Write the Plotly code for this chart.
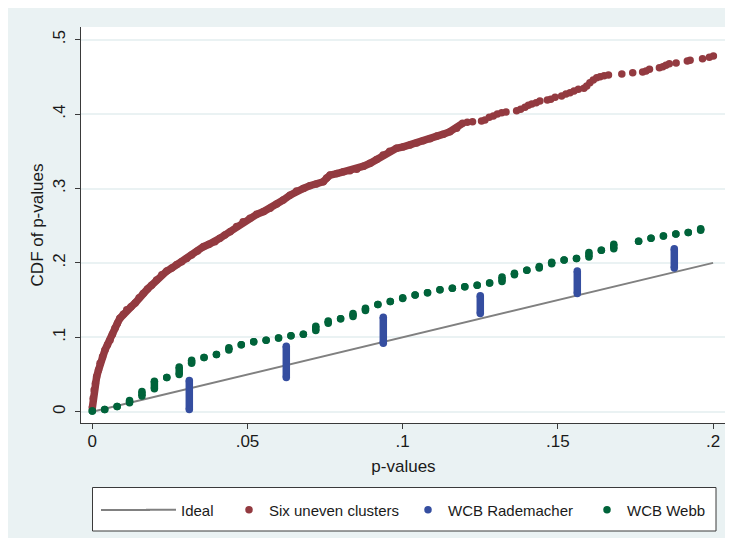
import plotly.graph_objects as go

# ---------------- data ----------------
ideal_x = [0.0, 0.2]
ideal_y = [0.0, 0.2]

# "Six uneven clusters": dense part of the empirical CDF
red_dense_x = [0.0000, 0.0003, 0.0006, 0.0010, 0.0014, 0.0020, 0.0025, 0.0033, 0.0041, 0.0049,
               0.0057, 0.0065, 0.0073, 0.0081, 0.0089, 0.0100, 0.0111, 0.0125, 0.0138, 0.0151,
               0.0164, 0.0178, 0.0191, 0.0207, 0.0224, 0.0240, 0.0256, 0.0272, 0.0288, 0.0304,
               0.0320, 0.0339, 0.0358, 0.0376, 0.0395, 0.0411, 0.0427, 0.0444, 0.0465, 0.0486,
               0.0508, 0.0530, 0.0552, 0.0573, 0.0594, 0.0615, 0.0637, 0.0658, 0.0680, 0.0701,
               0.0722, 0.0744, 0.0755, 0.0766, 0.0788, 0.0809, 0.0830, 0.0852, 0.0874, 0.0895,
               0.0916, 0.0937, 0.0958, 0.0980, 0.1002, 0.1024, 0.1045, 0.1066, 0.1088, 0.1110,
               0.1131, 0.1152, 0.1174, 0.1193]
red_dense_y = [0.005, 0.018, 0.029, 0.038, 0.047, 0.056, 0.065, 0.074, 0.083, 0.090,
               0.096, 0.104, 0.112, 0.119, 0.1255, 0.131, 0.137, 0.141, 0.146, 0.153,
               0.159, 0.165, 0.170, 0.177, 0.184, 0.189, 0.193, 0.198, 0.2016, 0.206,
               0.2106, 0.216, 0.2218, 0.225, 0.2285, 0.233, 0.2375, 0.242, 0.249, 0.2554,
               0.260, 0.2653, 0.269, 0.2734, 0.279, 0.2845, 0.291, 0.2966, 0.300, 0.3038,
               0.306, 0.3091, 0.314, 0.318, 0.320, 0.3226, 0.324, 0.3258, 0.330, 0.3339,
               0.339, 0.345, 0.350, 0.354, 0.356, 0.3585, 0.361, 0.3643, 0.367, 0.3706,
               0.373, 0.3763, 0.381, 0.3876]
# "Six uneven clusters": sparser upper part (individual dots)
red_sparse_x = [0.1208, 0.1225, 0.1254, 0.1265, 0.1279, 0.1292, 0.1305, 0.1319, 0.1333, 0.1367,
                0.1380, 0.1394, 0.1405, 0.1416, 0.1430, 0.1442, 0.1466, 0.1477, 0.1491, 0.1512,
                0.1526, 0.1539, 0.1552, 0.1566, 0.1584, 0.1593, 0.1603, 0.1614, 0.1625, 0.1636,
                0.1649, 0.1663, 0.1706, 0.1741, 0.1773, 0.1784, 0.1795, 0.1827, 0.1838, 0.1848,
                0.1859, 0.1881, 0.1917, 0.1926, 0.1966, 0.1988, 0.2001]
red_sparse_y = [0.3889, 0.3898, 0.3907, 0.3921, 0.3957, 0.3974, 0.4001, 0.4019, 0.4028, 0.4046,
                0.4064, 0.4091, 0.4118, 0.4136, 0.4154, 0.4176, 0.4190, 0.4199, 0.4225, 0.4243,
                0.4270, 0.4288, 0.4310, 0.4333, 0.4346, 0.4378, 0.4422, 0.4458, 0.4490, 0.4503,
                0.4517, 0.4526, 0.4539, 0.4557, 0.4566, 0.4579, 0.4602, 0.4624, 0.4638, 0.4655,
                0.4678, 0.4687, 0.4714, 0.4723, 0.4745, 0.4763, 0.4781]

# "WCB Rademacher": stacks of points at discrete p-values (lowest / highest CDF value)
blue_x = [0.03125, 0.0625, 0.09375, 0.125, 0.15625, 0.1875]
blue_lo = [0.003, 0.046, 0.092, 0.132, 0.159, 0.193]
blue_hi = [0.042, 0.088, 0.127, 0.156, 0.189, 0.219]

# "WCB Webb": discrete p-values (lowest / highest CDF value at each)
green_x = [0.000, 0.004, 0.008, 0.012, 0.016, 0.020, 0.024, 0.028, 0.032, 0.036,
           0.040, 0.044, 0.048, 0.052, 0.056, 0.060, 0.064, 0.068, 0.072, 0.076,
           0.080, 0.084, 0.088, 0.092, 0.096, 0.100, 0.104, 0.108, 0.112, 0.116,
           0.120, 0.124, 0.128, 0.132, 0.136, 0.140, 0.144, 0.148, 0.152, 0.156,
           0.160, 0.164, 0.168, 0.176, 0.180, 0.184, 0.188, 0.192, 0.196]
green_lo = [0.001, 0.003, 0.007, 0.012, 0.021, 0.031, 0.046, 0.050, 0.065, 0.073,
            0.077, 0.083, 0.090, 0.094, 0.096, 0.099, 0.102, 0.104, 0.109, 0.119,
            0.125, 0.128, 0.136, 0.144, 0.148, 0.152, 0.157, 0.160, 0.164, 0.166,
            0.168, 0.170, 0.173, 0.175, 0.184, 0.190, 0.193, 0.199, 0.204, 0.206,
            0.208, 0.217, 0.219, 0.229, 0.233, 0.236, 0.239, 0.241, 0.244]
green_hi = [0.001, 0.003, 0.007, 0.015, 0.027, 0.041, 0.046, 0.060, 0.069, 0.073,
            0.077, 0.086, 0.090, 0.094, 0.096, 0.099, 0.102, 0.104, 0.115, 0.122,
            0.125, 0.132, 0.139, 0.144, 0.148, 0.153, 0.157, 0.160, 0.164, 0.166,
            0.168, 0.170, 0.173, 0.181, 0.186, 0.190, 0.195, 0.201, 0.204, 0.206,
            0.214, 0.217, 0.225, 0.229, 0.233, 0.236, 0.239, 0.241, 0.246]

x_tickvals = [0, 0.05, 0.1, 0.15, 0.2]
x_ticktext = ["0", ".05", ".1", ".15", ".2"]
y_tickvals = [0, 0.1, 0.2, 0.3, 0.4, 0.5]
y_ticktext = ["0", ".1", ".2", ".3", ".4", ".5"]

series_names = ["Ideal", "Six uneven clusters", "WCB Rademacher", "WCB Webb"]

# ---------------- styling ----------------
RED = "#933A40"
BLUE = "#354EA0"
GREEN = "#00633A"
GRAY = "#808080"
BG = "#EAF2F3"
FONT = "Liberation Sans, Arial, sans-serif"
MS = 7.5


def stacks(xs, los, his):
    sx_, sy_ = [], []
    for x, lo, hi in zip(xs, los, his):
        sx_ += [x, x, None]
        sy_ += [lo, hi, None]
    return sx_, sy_


fig = go.Figure()

fig.add_trace(go.Scatter(x=ideal_x, y=ideal_y, mode="lines", name=series_names[0],
                         line=dict(color=GRAY, width=2), legendwidth=43))

fig.add_trace(go.Scatter(x=red_dense_x, y=red_dense_y, mode="lines", showlegend=False,
                         line=dict(color=RED, width=MS), hoverinfo="skip"))
fig.add_trace(go.Scatter(x=red_dense_x + red_sparse_x, y=red_dense_y + red_sparse_y,
                         mode="markers", name=series_names[1],
                         marker=dict(color=RED, size=MS), legendwidth=134))

bx, by = stacks(blue_x, blue_lo, blue_hi)
fig.add_trace(go.Scatter(x=bx, y=by, mode="lines", showlegend=False,
                         line=dict(color=BLUE, width=MS), hoverinfo="skip"))
fig.add_trace(go.Scatter(x=blue_x + blue_x, y=blue_lo + blue_hi, mode="markers",
                         name=series_names[2], marker=dict(color=BLUE, size=MS),
                         legendwidth=134))

gx, gy = stacks(green_x, green_lo, green_hi)
fig.add_trace(go.Scatter(x=gx, y=gy, mode="lines", showlegend=False,
                         line=dict(color=GREEN, width=MS), hoverinfo="skip"))
fig.add_trace(go.Scatter(x=green_x + green_x, y=green_lo + green_hi, mode="markers",
                         name=series_names[3], marker=dict(color=GREEN, size=MS),
                         legendwidth=80))

# The page shows the figure with an 8px offset; positions below are given in
# screen pixels and converted to the figure's paper coordinates.
OFF = 8
W, H = 733, 538
ML, MR, MT, MB = 73, 15, 19, 123
PW, PH = W - ML - MR, H - MT - MB


def sx(p):
    return (p - OFF - ML) / PW


def sy(p):
    return (H - MB - (p - OFF)) / PH


shapes = [
    # legend box
    dict(type="rect", xref="paper", yref="paper", layer="below",
         x0=sx(92.5), x1=sx(716), y0=sy(531), y1=sy(487.5),
         fillcolor="white", line=dict(color="#3a3a3a", width=1)),
    # longer key line for "Ideal" (legend swatch extension)
    dict(type="line", xref="paper", yref="paper", layer="above",
         x0=sx(101), x1=sx(150), y0=sy(510), y1=sy(510),
         line=dict(color=GRAY, width=2)),
]

axis_common = dict(
    showline=True, linecolor="#3a3a3a", linewidth=1,
    ticks="outside", ticklen=5, tickwidth=1, tickcolor="#3a3a3a",
    zeroline=False, mirror=False, automargin=False,
    tickfont=dict(family=FONT, size=17, color="#1a1a1a"),
)

fig.update_layout(
    width=W, height=H,
    margin=dict(l=ML, r=MR, t=MT, b=MB),
    paper_bgcolor=BG, plot_bgcolor="white",
    font=dict(family=FONT, color="#1a1a1a"),
    shapes=shapes,
    xaxis=dict(range=[-0.00364, 0.20416], tickvals=x_tickvals, ticktext=x_ticktext,
               showgrid=False,
               title=dict(text="p-values", font=dict(family=FONT, size=17), standoff=9),
               ticklabelstandoff=-2, **axis_common),
    yaxis=dict(range=[-0.01519, 0.51707], tickvals=y_tickvals, ticktext=y_ticktext,
               showgrid=True, gridcolor=BG, gridwidth=1.5, tickangle=-90,
               title=dict(text="CDF of p-values", font=dict(family=FONT, size=17), standoff=2),
               ticklabelstandoff=3, **axis_common),
    legend=dict(orientation="h", x=sx(141), xanchor="left",
                y=sy(510), yanchor="middle",
                bgcolor="rgba(0,0,0,0)", borderwidth=0,
                font=dict(family=FONT, size=15, color="#1a1a1a"),
                itemwidth=30, traceorder="normal"),
    showlegend=True,
)

fig.write_html("out.html")
